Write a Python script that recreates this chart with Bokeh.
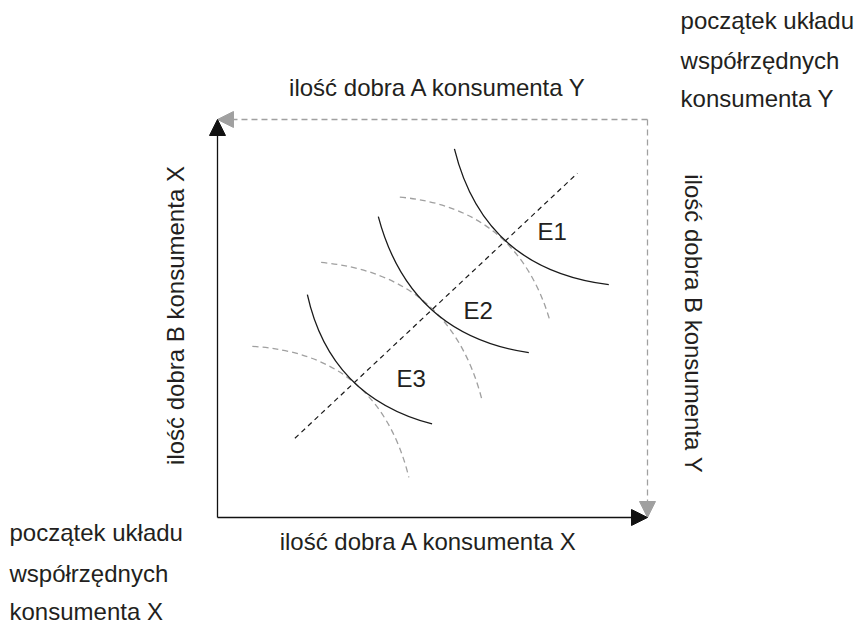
import math
from bokeh.plotting import figure
from bokeh.models import Arrow, NormalHead, Label, Range1d
from bokeh.embed import file_html
from bokeh.resources import INLINE

# ---------------- data (arbitrary units of goods, box = total endowment) ----
TOTAL_A = 100   # total amount of good A
TOTAL_B = 100   # total amount of good B

# indifference curves of consumer X (solid): start, end and control point
icx_a0 = [55.1, 37.4, 20.9]
icx_b0 = [92.6, 75.6, 56.0]
icx_a1 = [91.0, 72.4, 49.9]
icx_b1 = [58.5, 41.4, 23.5]
icx_ca = [62.0, 44.7, 26.2]
icx_cb = [62.4, 45.9, 30.2]

# indifference curves of consumer Y (dashed grey)
icy_a0 = [42.4, 24.1, 8.1]
icy_b0 = [80.5, 64.1, 43.0]
icy_a1 = [77.4, 61.4, 44.5]
icy_b1 = [49.1, 30.0, 10.1]
icy_ca = [69.8, 53.8, 37.4]
icy_cb = [77.8, 61.1, 41.1]

# contract curve
contract_a = [18.0, 83.7]
contract_b = [19.9, 86.5]

eq_names = ["E1", "E2", "E3"]

# ---------------- styling / layout ------------------------------------------
TEXT = "#231f20"
GREY = "#a0a0a0"
FONT = "Liberation Sans"
FS = "24px"

p = figure(width=854, height=624,
           x_range=Range1d(-50.465, 148.14), y_range=Range1d(-26.884, 129.899),
           output_backend="svg", toolbar_location=None, min_border=0,
           x_axis_location=None, y_axis_location=None)
p.grid.visible = False
p.outline_line_color = None
p.background_fill_color = "white"
p.border_fill_color = "white"

# grey dashed box edges (consumer Y axes)
for xe, ye in [(0, TOTAL_B), (TOTAL_A, 0)]:
    p.add_layout(Arrow(end=NormalHead(size=16, fill_color=GREY, line_color=GREY, line_width=1),
                       x_start=TOTAL_A, y_start=TOTAL_B, x_end=xe, y_end=ye,
                       line_color=GREY, line_width=1.3, line_dash="6 4"))

# consumer Y indifference curves
p.quadratic(x0=icy_a0, y0=icy_b0, x1=icy_a1, y1=icy_b1, cx=icy_ca, cy=icy_cb,
            line_color=GREY, line_width=1.3, line_dash="6 4")

# consumer X indifference curves
p.quadratic(x0=icx_a0, y0=icx_b0, x1=icx_a1, y1=icx_b1, cx=icx_ca, cy=icx_cb,
            line_color="#1a1a1a", line_width=1.3)

# contract curve
p.line(contract_a, contract_b, line_color="#1a1a1a", line_width=1.2, line_dash="5 4")

# consumer X axes
for xe, ye in [(0, TOTAL_B), (TOTAL_A, 0)]:
    p.add_layout(Arrow(end=NormalHead(size=16, fill_color="#111111", line_color="#111111", line_width=1),
                       x_start=0, y_start=0, x_end=xe, y_end=ye,
                       line_color="#111111", line_width=1.3))

def lab(x, y, text, align="left", angle=0.0, size=FS):
    p.add_layout(Label(x=x, y=y, text=text, text_font=FONT, text_font_size=size,
                       text_color=TEXT, text_align=align, text_baseline="alphabetic",
                       angle=angle))

# equilibrium labels
eq_pos = [(74.4, 71.8), (57.2, 52.0), (41.6, 34.9)]
for name, (ex, ey) in zip(eq_names, eq_pos):
    lab(ex, ey, name, size="24px")

# axis titles
lab(51.4, 108.0, "ilość dobra A konsumenta Y", align="center")
lab(49.2, -6.03, "ilość dobra A konsumenta X", align="center")
lab(-9.77, 50.75, "ilość dobra B konsumenta X", align="center", angle=math.pi / 2)
lab(110.7, 48.7, "ilość dobra B konsumenta Y", align="center", angle=-math.pi / 2)

# origins
for yy, t in zip([124.87, 114.82, 105.28], ["początek układu", "współrzędnych", "konsumenta Y"]):
    lab(107.7, yy, t)
for yy, t in zip([-3.77, -14.07, -23.62], ["początek układu", "współrzędnych", "konsumenta X"]):
    lab(-48.37, yy, t)

open("out.html", "w").write(file_html(p, INLINE))
